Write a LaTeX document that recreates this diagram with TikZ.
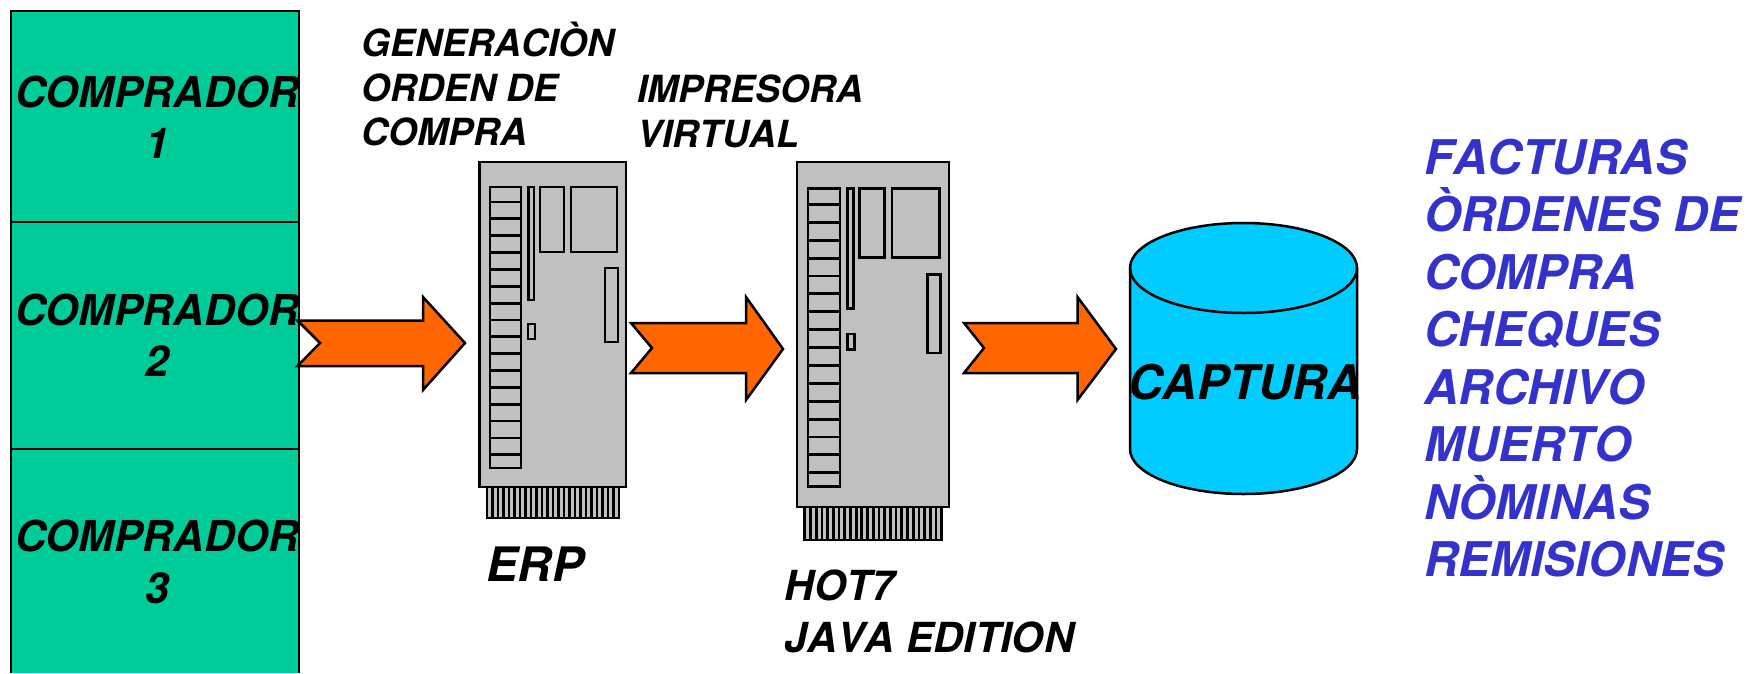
\documentclass[tikz,border=0pt]{standalone}
\usepackage{fontspec}
\setmainfont[Kerning=Off]{TeX Gyre Heros}
\definecolor{verde}{HTML}{00CC99}
\definecolor{naranja}{HTML}{FF6600}
\definecolor{celeste}{HTML}{00CCFF}
\definecolor{gris}{HTML}{C0C0C0}
\definecolor{azul}{HTML}{3333CC}

\begin{document}
\begin{tikzpicture}[x=1pt,y=-1pt,line join=miter]
    \tikzset{linea/.style = {draw=black, line width=2.5pt}}
    \tikzset{parte/.style = {draw=black, line width=2.8pt, fill=gris}}
    \tikzset{flecha/.style = {linea, fill=naranja}}
    \tikzset{texto/.style = {inner sep=0pt, font=\bfseries\itshape}}
    \tikzset{comprador/.style = {texto, align=center, font=\fontsize{42.6}{51.5}\selectfont\bfseries\itshape}}
    \tikzset{etiqueta/.style = {texto, align=left, anchor=west, font=\fontsize{37.4}{44.6}\selectfont\bfseries\itshape}}
    \tikzset{pics/servidor/.style = {code = {
        % case and pins
        \draw[parte] (7.5,325) rectangle (139.5,356);
        \foreach \i in {1,...,23} {\draw[parte] (7.5+5.5*\i,325) -- (7.5+5.5*\i,356);}
        \draw[parte] (0,0) rectangle (146.5,325);
        % ladder
        \draw[parte] (10.5,25) rectangle (41.5,306);
        \foreach \i in {0,...,15} {\draw[parte] (10.5,40+16.85*\i) -- (41.5,40+16.85*\i);}
        % parts
        \draw[parte] (49,25) rectangle (54.5,138);
        \draw[parte] (60.5,25) rectangle (84.5,90);
        \draw[parte] (91.5,25) rectangle (137.5,90);
        \draw[parte] (125.5,106) rectangle (138.5,180);
        \draw[parte] (48.5,162) rectangle (55.5,177);
    }}}

    \useasboundingbox (0,0) rectangle (1758,673);

    % compradores
    \fill[verde] (11,11) rectangle (299,673);
    \draw[linea] (11,673) -- (11,11) -- (299,11) -- (299,673);
    \draw[linea] (11,222) -- (299,222);
    \draw[linea] (11,449) -- (299,449);
    \node[comprador] (c1) at (157,117) {COMPRADOR\\1};
    \node[comprador] (c2) at (157,335) {COMPRADOR\\2};
    \node[comprador] (c3) at (157,562) {COMPRADOR\\3};

    % servers
    \pic (erp) at (479.5,162) {servidor};
    \pic[xscale=1.0375,yscale=1.0615] (hot) at (797,162) {servidor};

    % arrows
    \draw[flecha] (297.5,320.5) -- (423,320.5) -- (423,297) -- (465,343) -- (423,390) -- (423,366) -- (297.5,366) -- (320,343) -- cycle;
    \draw[flecha] (631,323) -- (746,323) -- (746,297) -- (783,349) -- (746,400) -- (746,373) -- (631,373) -- (652,348) -- cycle;
    \draw[flecha] (964,323) -- (1077.5,323) -- (1077.5,297) -- (1116,349) -- (1077.5,400) -- (1077.5,373) -- (964,373) -- (984,348) -- cycle;

    % cylinder
    \draw[linea, fill=celeste] (1130,268) -- (1130,449) arc[start angle=180, end angle=360, x radius=113.5, y radius=-45] -- (1357,268) arc[start angle=0, end angle=180, x radius=113.5, y radius=-45] -- cycle;
    \draw[linea] (1130,268) arc[start angle=180, end angle=360, x radius=113.5, y radius=-45];
    \node[texto, font=\fontsize{47.8}{50}\selectfont\bfseries\itshape] (captura) at (1245,382) {CAPTURA};

    % labels
    \node[etiqueta] (orden) at (361,84) {GENERACIÒN\\ORDEN DE\\COMPRA};
    \node[etiqueta] (impresora) at (637,111.5) {IMPRESORA\\VIRTUAL};
    \node[texto, anchor=west, font=\fontsize{47.5}{50}\selectfont\bfseries\itshape] (erp) at (486,564) {ERP};
    \node[texto, align=left, anchor=west, font=\fontsize{41.4}{52}\selectfont\bfseries\itshape] (hot7) at (784,611) {HOT7\\JAVA EDITION};
    \node[texto, align=left, anchor=west, text=azul, font=\fontsize{47.8}{57.5}\selectfont\bfseries\itshape] (lista) at (1424,358) {FACTURAS\\ÒRDENES DE\\COMPRA\\CHEQUES\\ARCHIVO\\MUERTO\\NÒMINAS\\REMISIONES};
\end{tikzpicture}
\end{document}
